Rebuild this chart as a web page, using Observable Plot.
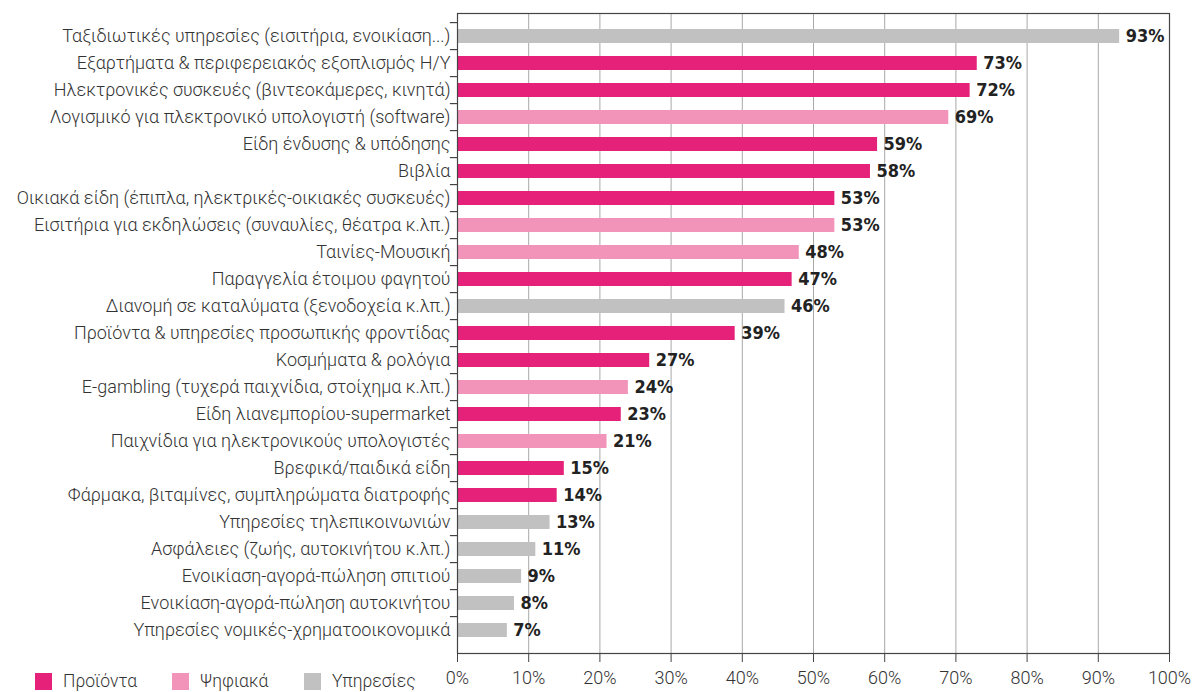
<!DOCTYPE html>
<html>
<head>
<meta charset="utf-8">
<script src="https://cdn.jsdelivr.net/npm/d3@7"></script>
<script src="https://cdn.jsdelivr.net/npm/@observablehq/plot@0.6"></script>
<style>
  html, body { margin: 0; padding: 0; background: #fff; }
  #wrap { position: relative; width: 1195px; height: 692px; overflow: hidden; }
  .item { position: absolute; top: 671px; display: flex; align-items: center;
          font-family: Roboto, "Noto Sans", sans-serif; font-weight: 300; font-size: 17.5px; color: #333; }
  .sw { width: 17px; height: 17px; margin-right: 11px; }
</style>
</head>
<body>
<div id="wrap">
  <div id="chart"></div>
  <div id="legend"></div>
</div>
<script>
const categories = [
  "Ταξιδιωτικές υπηρεσίες (εισιτήρια, ενοικίαση...)",
  "Εξαρτήματα & περιφερειακός εξοπλισμός Η/Υ",
  "Ηλεκτρονικές συσκευές (βιντεοκάμερες, κινητά)",
  "Λογισμικό για πλεκτρονικό υπολογιστή (software)",
  "Είδη ένδυσης & υπόδησης",
  "Βιβλία",
  "Οικιακά είδη (έπιπλα, ηλεκτρικές-οικιακές συσκευές)",
  "Εισιτήρια για εκδηλώσεις (συναυλίες, θέατρα κ.λπ.)",
  "Ταινίες-Μουσική",
  "Παραγγελία έτοιμου φαγητού",
  "Διανομή σε καταλύματα (ξενοδοχεία κ.λπ.)",
  "Προϊόντα & υπηρεσίες προσωπικής φροντίδας",
  "Κοσμήματα & ρολόγια",
  "E-gambling (τυχερά παιχνίδια, στοίχημα κ.λπ.)",
  "Είδη λιανεμπορίου-supermarket",
  "Παιχνίδια για ηλεκτρονικούς υπολογιστές",
  "Βρεφικά/παιδικά είδη",
  "Φάρμακα, βιταμίνες, συμπληρώματα διατροφής",
  "Υπηρεσίες τηλεπικοινωνιών",
  "Ασφάλειες (ζωής, αυτοκινήτου κ.λπ.)",
  "Ενοικίαση-αγορά-πώληση σπιτιού",
  "Ενοικίαση-αγορά-πώληση αυτοκινήτου",
  "Υπηρεσίες νομικές-χρηματοοικονομικά"
];
const values = [93, 73, 72, 69, 59, 58, 53, 53, 48, 47, 46, 39, 27, 24, 23, 21, 15, 14, 13, 11, 9, 8, 7];
const types = [
  "Υπηρεσίες", "Προϊόντα", "Προϊόντα", "Ψηφιακά", "Προϊόντα", "Προϊόντα", "Προϊόντα",
  "Ψηφιακά", "Ψηφιακά", "Προϊόντα", "Υπηρεσίες", "Προϊόντα", "Προϊόντα", "Ψηφιακά",
  "Προϊόντα", "Ψηφιακά", "Προϊόντα", "Προϊόντα", "Υπηρεσίες", "Υπηρεσίες", "Υπηρεσίες",
  "Υπηρεσίες", "Υπηρεσίες"
];
const typeNames = ["Προϊόντα", "Ψηφιακά", "Υπηρεσίες"];
const typeColors = ["#e5217a", "#f293ba", "#c1c1c1"];
const xTicks = [0, 10, 20, 30, 40, 50, 60, 70, 80, 90, 100];

const data = categories.map((c, i) => ({cat: c, value: values[i], type: types[i]}));

const W = 1195, H = 692, mTop = 13, mBottom = 39, mLeft = 457, mRight = 26;
const step = (H - mTop - mBottom) / categories.length;

const chart = Plot.plot({
  width: W,
  height: H,
  marginTop: mTop,
  marginBottom: mBottom,
  marginLeft: mLeft,
  marginRight: mRight,
  style: {background: "#fff", fontFamily: "Roboto, 'Noto Sans', sans-serif"},
  x: {domain: [0, 100]},
  y: {domain: categories, padding: 0.5},
  color: {domain: typeNames, range: typeColors},
  marks: [
    Plot.gridX(xTicks, {stroke: "#a8a8a8", strokeOpacity: 1, strokeWidth: 1}),
    Plot.barX(data, {y: "cat", x: "value", fill: "type"}),
    Plot.frame({stroke: "#444", strokeWidth: 1.2}),
    Plot.ruleY(categories, {y: d => d, x1: -1, x2: 0, dy: -step / 2, stroke: "#444", strokeWidth: 1.2}),
    Plot.axisY({tickSize: 0, tickPadding: 7, fontSize: 18, fontWeight: 300, fill: "#333", label: null}),
    Plot.axisX(xTicks, {tickSize: 9, tickPadding: 9, fontSize: 18, fontWeight: 300, fill: "#333",
      stroke: "#444", tickFormat: d => d + "%", label: null}),
    Plot.text(data, {y: "cat", x: "value", text: d => d.value + "%", dx: 6, textAnchor: "start",
      fontSize: 18, fontWeight: "bold", fill: "#222",
      fontFamily: "'Liberation Sans Narrow', 'DejaVu Sans Condensed', sans-serif"})
  ]
});
document.getElementById("chart").appendChild(chart);

const legend = document.getElementById("legend");
const legendLeft = [35, 172, 304];
typeNames.forEach((t, i) => {
  const item = document.createElement("div");
  item.className = "item";
  item.style.left = legendLeft[i] + "px";
  const sw = document.createElement("div");
  sw.className = "sw";
  sw.style.background = typeColors[i];
  const lab = document.createElement("span");
  lab.textContent = t;
  item.appendChild(sw);
  item.appendChild(lab);
  legend.appendChild(item);
});
</script>
</body>
</html>
